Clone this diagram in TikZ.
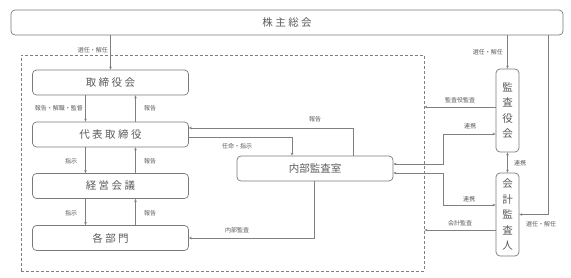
\documentclass[tikz,border=0pt]{standalone}
\usepackage{fontspec}
\setmainfont{Noto Sans CJK JP}
\usetikzlibrary{arrows.meta}
\definecolor{lnc}{HTML}{808080}
\definecolor{bdc}{HTML}{7A7A7A}
\definecolor{txc}{HTML}{5A5A5A}
\newcommand{\gs}{\hspace{2.5pt}}
\begin{document}
\begin{tikzpicture}[x=1pt,y=-1pt,
  box/.style={draw=bdc,line width=0.7pt,rounded corners=4pt,inner sep=0pt,
    minimum width=156pt,minimum height=25pt,text=txc,font=\fontsize{10.5}{12}\selectfont},
  vbox/.style={draw=bdc,line width=0.7pt,rounded corners=4pt,inner sep=0pt,
    minimum width=23pt,minimum height=83pt,text=txc,align=center,
    font=\fontsize{10.5}{15.5}\selectfont},
  lbl/.style={text=txc,font=\fontsize{6}{7}\selectfont,inner sep=0pt},
  arr/.style={draw=lnc,line width=0.6pt,-{Stealth[length=3pt,width=2.6pt]}},
  darr/.style={draw=lnc,line width=0.6pt,{Stealth[length=3pt,width=2.6pt]}-{Stealth[length=3pt,width=2.6pt]}},
  dashbox/.style={draw=lnc,line width=0.6pt,dash pattern=on 3pt off 2pt,inner sep=0pt,
    minimum width=403pt,minimum height=216pt}]
\useasboundingbox (0,0) rectangle (571,278);
% nodes
\node[box,minimum width=552pt] (kabu) at (287,22.5) {株\gs 主\gs 総\gs 会};
\node[dashbox] (dbox) at (222.5,163) {};
\node[box] (tb) at (110.5,82.5) {取\gs 締\gs 役\gs 会};
\node[box] (daihyo) at (110.5,134.5) {代\gs 表\gs 取\gs 締\gs 役};
\node[box] (keiei) at (110.5,186) {経\gs 営\gs 会\gs 議};
\node[box] (bumon) at (110.5,238) {各\gs 部\gs 門};
\node[box] (naibu) at (315,168.5) {内部監査室};
\node[vbox] (kansa) at (507.5,110.5) {監\\査\\役\\会};
\node[vbox] (kaikei) at (507.5,214.5) {会\\計\\監\\査\\人};
% connectors
\draw[arr] (tb.north |- kabu.south) -- (tb.north);
\node[lbl,anchor=east] (l1) at (108,50) {選任・解任};
\draw[arr] (kansa.north |- kabu.south) -- (kansa.north);
\node[lbl,anchor=east] (l2) at (503,52) {選任・解任};
\coordinate (cr) at (548,0);
\draw[arr] (kabu.south -| cr) |- (kaikei.east);
\node[lbl] (l3) at (541,224) {選任・解任};

\draw[arr] ([xshift=-25pt]tb.south) -- ([xshift=-25pt]daihyo.north);
\draw[arr] ([xshift=25pt]daihyo.north) -- ([xshift=25pt]tb.south);
\node[lbl,anchor=east] (l4) at (83,108.5) {報告・解職・監督};
\node[lbl] (l5) at (150,108.5) {報告};
\draw[arr] ([xshift=-25pt]daihyo.south) -- ([xshift=-25pt]keiei.north);
\draw[arr] ([xshift=25pt]keiei.north) -- ([xshift=25pt]daihyo.south);
\node[lbl] (l6) at (71,161) {指示};
\node[lbl] (l7) at (150,161) {報告};
\draw[arr] ([xshift=-25pt]keiei.south) -- ([xshift=-25pt]bumon.north);
\draw[arr] ([xshift=25pt]bumon.north) -- ([xshift=25pt]keiei.south);
\node[lbl] (l8) at (71,213) {指示};
\node[lbl] (l9) at (150,213) {報告};

\draw[arr] (naibu.north -| 353,0) |- (daihyo.east |- 0,128);
\node[lbl] (l10) at (315,119) {報告};
\draw[arr] (daihyo.east |- 0,137) -| (naibu.north -| 292,0);
\node[lbl] (l11) at (237,146) {任命・指示};
\draw[arr] (naibu.south -| 314,0) |- (bumon.east);
\node[lbl] (l12) at (237,230) {内部監査};

\draw[arr] (kansa.west |- 0,107) -- (dbox.east |- 0,107);
\node[lbl] (l13) at (460,100) {監査役監査};
\draw[darr] (naibu.east |- 0,164) -| (443,134) -- (kansa.west |- 0,134);
\node[lbl] (l14) at (470,126) {連携};
\draw[darr] (naibu.east |- 0,173) -| (443,205) -- (kaikei.west |- 0,205);
\node[lbl] (l15) at (469,199) {連携};
\draw[darr] (kansa.south) -- (kaikei.north);
\node[lbl] (l16) at (520,163) {連携};
\draw[arr] (kaikei.west |- 0,230) -- (dbox.east |- 0,230);
\node[lbl] (l17) at (460,223) {会計監査};
\end{tikzpicture}
\end{document}
